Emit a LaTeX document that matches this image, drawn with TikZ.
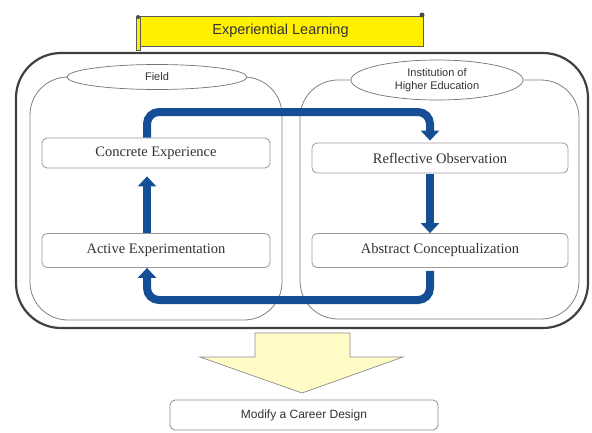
\documentclass[tikz,border=0pt]{standalone}
\usepackage{fontspec}
\setmainfont{Liberation Serif}
\newfontfamily\arialf{Liberation Sans}
\usetikzlibrary{arrows.meta,calc,shapes.geometric}
\definecolor{flowblue}{RGB}{22,78,150}
\definecolor{banneryellow}{RGB}{255,240,0}
\definecolor{paleyellow}{RGB}{255,252,200}
\tikzset{
 stagebox/.style={draw=black!40, line width=0.8pt, rounded corners=5pt, fill=white, inner sep=0pt, font=\fontsize{14.5}{16}\selectfont, text=black!80},
 lens/.style={draw=black!55, ellipse, fill=white, line width=0.7pt, inner sep=0pt, font=\arialf\fontsize{11}{13}\selectfont, text=black!80, align=center},
 zone/.style={draw=black!50, line width=0.8pt, rounded corners=38pt},
 flow/.style={draw=flowblue, line width=8pt, rounded corners=12pt},
 flowtip/.style={-{Triangle[width=18pt,length=10pt]}},
}
\begin{document}
\begin{tikzpicture}[x=1pt,y=-1pt]
\useasboundingbox (0,0) rectangle (592,432);
% outer frame
\draw[black!75, line width=2.2pt, rounded corners=45pt] (16,53) rectangle (588,328);
% zones
\draw[zone] (30,77) rectangle (282,320);
\draw[zone] (300,80) rectangle (579,319);
\node[lens, minimum width=180pt, minimum height=25pt] (field) at (157,77) {Field};
\node[lens, minimum width=172pt, minimum height=40pt] (ihe) at (437,80) {Institution of\\Higher Education};
% stage boxes
\node[stagebox, minimum width=228pt, minimum height=30pt] (ce) at (156,153) {Concrete Experience};
\node[stagebox, minimum width=256pt, minimum height=30pt] (ro) at (440,158) {Reflective Observation};
\node[stagebox, minimum width=228pt, minimum height=34pt] (ae) at (156,250.5) {Active Experimentation};
\node[stagebox, minimum width=256pt, minimum height=34pt] (ac) at (440,250.5) {Abstract Conceptualization};
\coordinate (lx) at (147,0);
\coordinate (rx) at (430,0);
\coordinate (ty) at (0,112);
\coordinate (by) at (0,300);
% flows
\draw[flow, flowtip, shorten >=2pt] (ce.north -| lx) -- (lx |- ty) -- (rx |- ty) -- (ro.north -| rx);
\draw[flow, flowtip, shorten <=1pt] (ro.south -| rx) -- (ac.north -| rx);
\draw[flow, flowtip, shorten <=3pt] (ac.south -| rx) -- (rx |- by) -- (lx |- by) -- (ae.south -| lx);
\draw[flow, flowtip, shorten >=8pt] (ae.north -| lx) -- (ce.south -| lx);
% banner
\node[fill=banneryellow, draw=black!65, line width=0.8pt, minimum width=285pt, minimum height=30pt, inner sep=0pt, font=\arialf\fontsize{14.5}{16}\selectfont, text=black!80] (banner) at (280.5,31) {Experiential Learning};
\draw[fill=banneryellow, draw=black!65, line width=0.8pt] (136,17) rectangle (140,50);
\fill[black!70] (422,15) circle (2.5pt);
\fill[black!70] (138,17) circle (2pt);
% big arrow
\draw[fill=paleyellow, draw=black!45, line width=0.7pt] (255,333) -- (350,333) -- (350,357) -- (403,357) -- (302,393) -- (200,357) -- (255,357) -- cycle;
% result box
\node[stagebox, draw=black!45, minimum width=268pt, minimum height=30pt, font=\arialf\fontsize{12}{14}\selectfont] (mcd) at (304,415) {Modify a Career Design};
\end{tikzpicture}
\end{document}
